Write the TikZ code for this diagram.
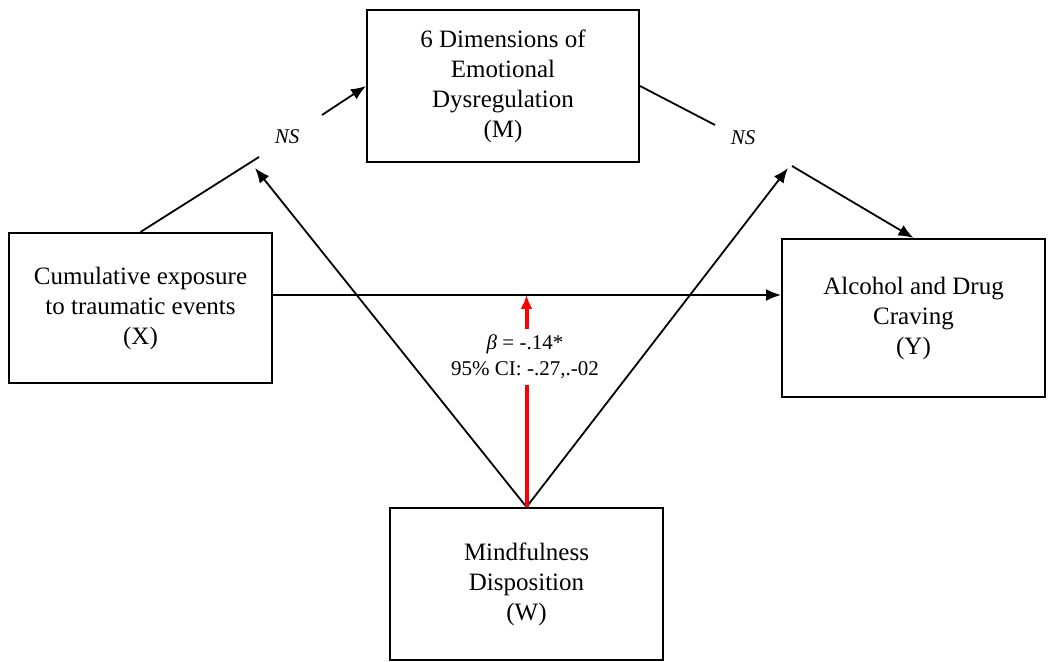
\documentclass[tikz,border=0pt]{standalone}
\usepackage{fontspec}
\setmainfont{Liberation Serif}
\usetikzlibrary{arrows.meta}
\tikzset{
  varbox/.style={draw, line width=1pt, align=center, inner sep=0pt,
    font=\fontsize{12.5}{15}\selectfont},
  link/.style={line width=0.9pt, -{Latex[length=7.5pt,width=6pt]}},
  plain/.style={line width=0.9pt},
  redlink/.style={red, line width=2pt, -{Latex[length=7pt,width=6pt]}},
  nslabel/.style={font=\fontsize{10.5}{12}\selectfont\itshape, inner sep=1pt}
}
\begin{document}
\begin{tikzpicture}[x=0.5pt,y=-0.5pt]
				%%%%% FRAME %%%%%
				\useasboundingbox (0,0) rectangle (1049,662);

				% the four variables
				\node[varbox, minimum width=136pt, minimum height=76pt] (M) at (503,86) {6 Dimensions of\\Emotional\\Dysregulation\\(M)};
				\node[varbox, minimum width=131.5pt, minimum height=75pt] (X) at (140.5,308) {Cumulative exposure\\to traumatic events\\(X)};
				\node[varbox, minimum width=131.5pt, minimum height=79pt] (Y) at (913.5,318) {Alcohol and Drug\\Craving\\(Y)};
				\node[varbox, minimum width=136.5pt, minimum height=76pt] (W) at (526.5,584) {Mindfulness\\Disposition\\(W)};

				% break points of the a and b paths
				\coordinate (a1) at (259,157);
				\coordinate (a2) at (322,115);
				\coordinate (b1) at (715,125);
				\coordinate (b2) at (792,166);
				\coordinate (t1) at (255,168);
				\coordinate (t2) at (788,168);
				\coordinate (h) at (0,295);

				\node[nslabel] (ns1) at (287,137) {NS};
				\node[nslabel] (ns2) at (743,138) {NS};

				% a path
				\draw[plain] (X.north) -- (a1);
				\draw[link] (a2) -- (M.west);
				% b path
				\draw[plain] (M.east) -- (b1);
				\draw[link] (b2) -- (Y.north);
				% direct path
				\draw[link] (X.east |- h) -- (Y.west |- h);

				% moderator
				\draw[link] (W.north) -- (t1);
				\draw[link] (W.north) -- (t2);
				\draw[redlink] (W.north) -- (W.north |- h);
				\node[fill=white, align=center, inner xsep=2pt, inner ysep=3pt, font=\fontsize{10.5}{13}\selectfont] (beta) at (525,357) {\textit{β} = -.14*\\95\% CI: -.27,.-02};
				%%%%% END %%%%%
\end{tikzpicture}
\end{document}
